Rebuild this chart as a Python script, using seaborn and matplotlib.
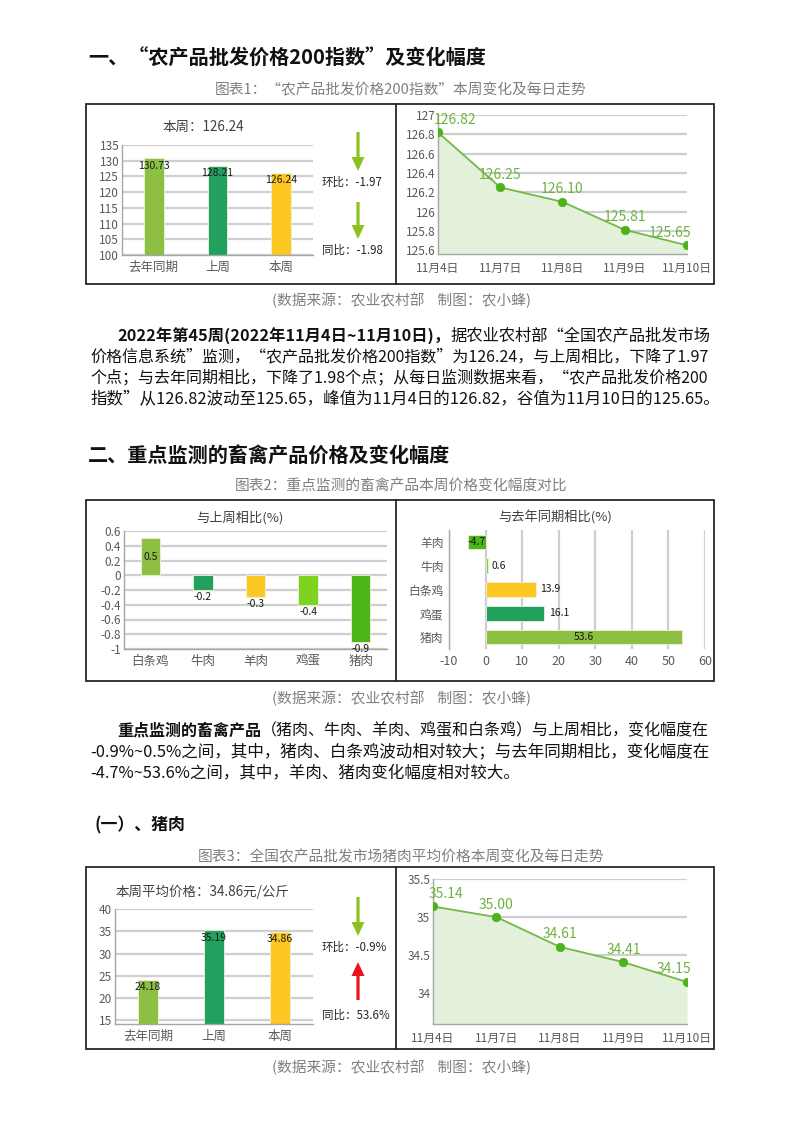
import numpy as np
import pandas as pd
import matplotlib
matplotlib.use("Agg")
import matplotlib.pyplot as plt
import seaborn as sns
from matplotlib.patches import Rectangle, FancyArrow

sns.set_theme(style="white")
plt.rcParams['font.family'] = ['Noto Sans CJK SC', 'DejaVu Sans']
plt.rcParams['axes.unicode_minus'] = False

# ---------------- data ----------------
idx_periods = ["去年同期", "上周", "本周"]
idx_values = [130.73, 128.21, 126.24]
days = ["11月4日", "11月7日", "11月8日", "11月9日", "11月10日"]
idx_daily = [126.82, 126.25, 126.10, 125.81, 125.65]
wk_items = ["白条鸡", "牛肉", "羊肉", "鸡蛋", "猪肉"]
wk_change = [0.5, -0.2, -0.3, -0.4, -0.9]
yr_items = ["羊肉", "牛肉", "白条鸡", "鸡蛋", "猪肉"]
yr_change = [-4.7, 0.6, 13.9, 16.1, 53.6]
pork_periods = ["去年同期", "上周", "本周"]
pork_values = [24.18, 35.19, 34.86]
pork_daily = [35.14, 35.00, 34.61, 34.41, 34.15]

OLIVE, TEAL, YELLOW, LIME, GREEN = "#8DBF43", "#22A05E", "#FDC823", "#7ED321", "#4CB51A"
LINE, DOT, LBL, FILL = "#74B84A", "#4DB31C", "#6DB33F", "#E3F1DA"
GRID, SPINE, TICK = "#CFCFCF", "#A6A6A6", "#595959"

W, H = 802, 1133
fig = plt.figure(figsize=(W / 100, H / 100), dpi=100)
fig.patch.set_facecolor("white")

bg = fig.add_axes([0, 0, 1, 1])
bg.set_xlim(0, W)
bg.set_ylim(H, 0)
bg.axis("off")
bg.set_zorder(0)


def add_ax(x0, y0, x1, y1):
    ax = fig.add_axes([x0 / W, 1 - y1 / H, (x1 - x0) / W, (y1 - y0) / H])
    ax.set_facecolor("none")
    ax.set_zorder(2)
    return ax


def style_common(ax, fs=8.5):
    for s in ["top", "right"]:
        ax.spines[s].set_visible(False)
    for s in ["left", "bottom"]:
        ax.spines[s].set_color(SPINE)
        ax.spines[s].set_linewidth(1.0)
    ax.tick_params(colors=TICK, labelsize=fs, length=3, width=0.8, pad=2)
    ax.set_xlabel("")
    ax.set_ylabel("")
    ax.set_axisbelow(True)


def fmt_g(v):
    return ("%.2f" % v).rstrip("0").rstrip(".") if abs(v) > 1e-9 else "0"


# ---------------- text helpers ----------------
renderer = fig.canvas.get_renderer()


def _draw_segments(x, y, segs, fs):
    texts = []
    for txt, bold in segs:
        t = bg.text(x, y, txt, fontsize=fs, fontweight="bold" if bold else "normal",
                    color="#111111", ha="left", va="center")
        bb = t.get_window_extent(renderer)
        x += bb.width
        texts.append(t)
    return texts, x


def put_segments(x, y, segs, fs=11.85, right=None):
    texts, xe = _draw_segments(x, y, segs, fs)
    if right is not None:
        scale = (right - x) / (xe - x)
        for t in texts:
            t.remove()
        _draw_segments(x, y, segs, fs * scale)


def heading(x, y, txt, fs=14.5):
    bg.text(x, y, txt, fontsize=fs, fontweight="bold", color="#111111", ha="left", va="center")


def caption(y, txt):
    bg.text(401, y, txt, fontsize=10.6, color="#7F7F7F", ha="center", va="center")


def box(y0, y1, xdiv, x0=86, x1=714):
    bg.add_patch(Rectangle((x0, y0), x1 - x0, y1 - y0, fill=False, ec="#262626", lw=1.3))
    bg.plot([xdiv, xdiv], [y0, y1], color="#262626", lw=1.3)


def arrow(x, y_from, y_to, color):
    bg.add_patch(FancyArrow(x, y_from, 0, y_to - y_from, width=3.2, head_width=13,
                            head_length=14, length_includes_head=True, color=color, lw=0))


# ---------------- section 1 ----------------
heading(88, 58, "一、“农产品批发价格200指数”及变化幅度")
caption(90, "图表1：“农产品批发价格200指数”本周变化及每日走势")
box(104, 284, 396)

def vbar_levels(ax, cats, vals, ylim, yticks, title, tx, ty, title_ha="center"):
    sns.barplot(x=cats, y=vals, hue=cats, palette=[OLIVE, TEAL, YELLOW], legend=False,
                width=0.31, saturation=1, ax=ax, edgecolor="#EAF3DA", linewidth=0.6)
    ax.set_ylim(*ylim)
    ax.set_yticks(yticks)
    ax.set_yticklabels([fmt_g(v) for v in yticks])
    ax.yaxis.grid(True, color=GRID, lw=1.6)
    style_common(ax)
    ax.tick_params(axis="y", length=0)
    ax.tick_params(axis="x", length=0, labelsize=9, pad=4)
    for i, v in enumerate(vals):
        ax.annotate("%.2f" % v, (i, v), xytext=(0, -1.5), textcoords="offset points",
                    ha="center", va="top", fontsize=7.5, color="#1a1a1a")
    bg.text(tx, ty, title, fontsize=9.7, color="#404040", ha=title_ha, va="center")


ax1 = add_ax(122, 145, 313, 255)
vbar_levels(ax1, idx_periods, idx_values, (100, 135), np.arange(100, 136, 5),
            "本周：126.24", 203, 127)
arrow(358, 132, 171, "#8CC21F")
arrow(358, 202, 239, "#8CC21F")
bg.text(322, 182, "环比：-1.97", fontsize=8.3, color="#262626", ha="left", va="center")
bg.text(322, 250, "同比：-1.98", fontsize=8.3, color="#262626", ha="left", va="center")


def daily_line(ax, vals, ylim, yticks):
    sns.lineplot(x=days, y=vals, color=LINE, lw=1.3, sort=False, ax=ax, zorder=3)
    ax.fill_between(days, vals, ylim[0], color=FILL, lw=0, zorder=1)
    sns.scatterplot(x=days, y=vals, color=DOT, s=38, edgecolor=DOT, ax=ax, zorder=4)
    ax.set_xlim(0, len(days) - 1)
    ax.set_ylim(*ylim)
    ax.set_yticks(yticks)
    ax.set_yticklabels([fmt_g(v) for v in yticks])
    ax.yaxis.grid(True, color=GRID, lw=1.6)
    style_common(ax)
    ax.tick_params(axis="y", length=0)
    ax.tick_params(axis="x", labelsize=8.5, pad=3)
    n = len(vals)
    for i, v in enumerate(vals):
        if i == 0:
            ha, dx = "left", -3
        elif i == n - 1:
            ha, dx = "right", 3
        else:
            ha, dx = "center", 0
        ax.annotate("%.2f" % v, (i, v), xytext=(dx, 4), textcoords="offset points",
                    ha=ha, va="bottom", fontsize=10, color=LBL)


ax2 = add_ax(438, 115, 687, 254)
daily_line(ax2, idx_daily, (125.56, 127.0), np.round(np.arange(125.6, 127.01, 0.2), 1))

caption(300, "(数据来源：农业农村部    制图：农小蜂)")

RIGHT = 712
put_segments(117, 336, [("2022年第45周(2022年11月4日~11月10日)，", True),
                        ("据农业农村部“全国农产品批发市场", False)], right=RIGHT)
put_segments(90, 357, [("价格信息系统”监测，“农产品批发价格200指数”为126.24，与上周相比，下降了1.97", False)], right=RIGHT)
put_segments(90, 378, [("个点；与去年同期相比，下降了1.98个点；从每日监测数据来看，“农产品批发价格200", False)], right=RIGHT)
put_segments(90, 399, [("指数”从126.82波动至125.65，峰值为11月4日的126.82，谷值为11月10日的125.65。", False)])

# ---------------- section 2 ----------------
heading(88, 455, "二、重点监测的畜禽产品价格及变化幅度")
caption(487, "图表2：重点监测的畜禽产品本周价格变化幅度对比")
box(500, 681, 396)

ax3 = add_ax(124, 531, 387, 649)
sns.barplot(x=wk_items, y=wk_change, hue=wk_items, palette=[OLIVE, TEAL, YELLOW, LIME, GREEN],
            legend=False, width=0.37, saturation=1, ax=ax3, edgecolor="#EAF3DA", linewidth=0.6)
wk_ticks = np.round(np.arange(-1.0, 0.61, 0.2), 1)
ax3.set_ylim(-1.0, 0.6)
ax3.set_yticks(wk_ticks)
ax3.set_yticklabels([fmt_g(v) for v in wk_ticks])
ax3.yaxis.grid(True, color=GRID, lw=1.6)
style_common(ax3)
ax3.tick_params(axis="y", length=0)
ax3.tick_params(axis="x", length=0, labelsize=9, pad=4)
for i, v in enumerate(wk_change):
    if v > 0:
        ax3.text(i, v / 2, fmt_g(v), ha="center", va="center", fontsize=7.5, color="#1a1a1a")
    else:
        ax3.annotate(fmt_g(v), (i, v), xytext=(0, -1.5), textcoords="offset points",
                     ha="center", va="top", fontsize=7.5, color="#1a1a1a")
bg.text(240, 518, "与上周相比(%)", fontsize=9.5, color="#404040", ha="center", va="center")

ax4 = add_ax(449, 530, 705, 649)
sns.barplot(x=yr_change, y=yr_items, hue=yr_items, palette=[GREEN, LIME, YELLOW, TEAL, OLIVE],
            legend=False, orient="h", width=0.62, saturation=1, ax=ax4,
            edgecolor="#EAF3DA", linewidth=0.6)
ax4.set_xlim(-10, 60)
ax4.set_xticks(np.arange(-10, 61, 10))
ax4.xaxis.grid(True, color=GRID, lw=1.6)
style_common(ax4)
ax4.spines["bottom"].set_visible(False)
ax4.tick_params(axis="x", length=0, labelsize=9, pad=4)
ax4.tick_params(axis="y", length=0, labelsize=8.5, pad=4)
for i, v in enumerate(yr_change):
    if v < 0 or v > 40:
        ax4.text(v / 2, i, fmt_g(v), ha="center", va="center", fontsize=7.5, color="#1a1a1a")
    else:
        ax4.annotate(fmt_g(v), (v, i), xytext=(3, 0), textcoords="offset points",
                     ha="left", va="center", fontsize=7.5, color="#1a1a1a")
bg.text(555, 518, "与去年同期相比(%)", fontsize=9.5, color="#404040", ha="center", va="center")

caption(698, "(数据来源：农业农村部    制图：农小蜂)")

put_segments(117, 731, [("重点监测的畜禽产品", True),
                        ("（猪肉、牛肉、羊肉、鸡蛋和白条鸡）与上周相比，变化幅度在", False)], right=RIGHT)
put_segments(90, 752, [("-0.9%~0.5%之间，其中，猪肉、白条鸡波动相对较大；与去年同期相比，变化幅度在", False)], right=RIGHT)
put_segments(90, 773, [("-4.7%~53.6%之间，其中，羊肉、猪肉变化幅度相对较大。", False)])

# ---------------- section 3 ----------------
heading(95, 825, "(一）、猪肉", fs=12.2)
caption(857, "图表3：全国农产品批发市场猪肉平均价格本周变化及每日走势")
box(867, 1049, 396)

ax5 = add_ax(115, 909, 313, 1024)
vbar_levels(ax5, pork_periods, pork_values, (14.2, 40), np.arange(15, 41, 5),
            "本周平均价格：34.86元/公斤", 116, 892, title_ha="left")
arrow(358, 897, 936, "#8CC21F")
arrow(358, 1000, 962, "#E8141B")
bg.text(322, 947, "环比：-0.9%", fontsize=8.3, color="#262626", ha="left", va="center")
bg.text(322, 1015, "同比：53.6%", fontsize=8.3, color="#262626", ha="left", va="center")

ax6 = add_ax(433, 879, 687, 1024)
daily_line(ax6, pork_daily, (33.6, 35.5), [34, 34.5, 35, 35.5])

caption(1067, "(数据来源：农业农村部    制图：农小蜂)")

fig.savefig("out.png", dpi=100, facecolor="white")
